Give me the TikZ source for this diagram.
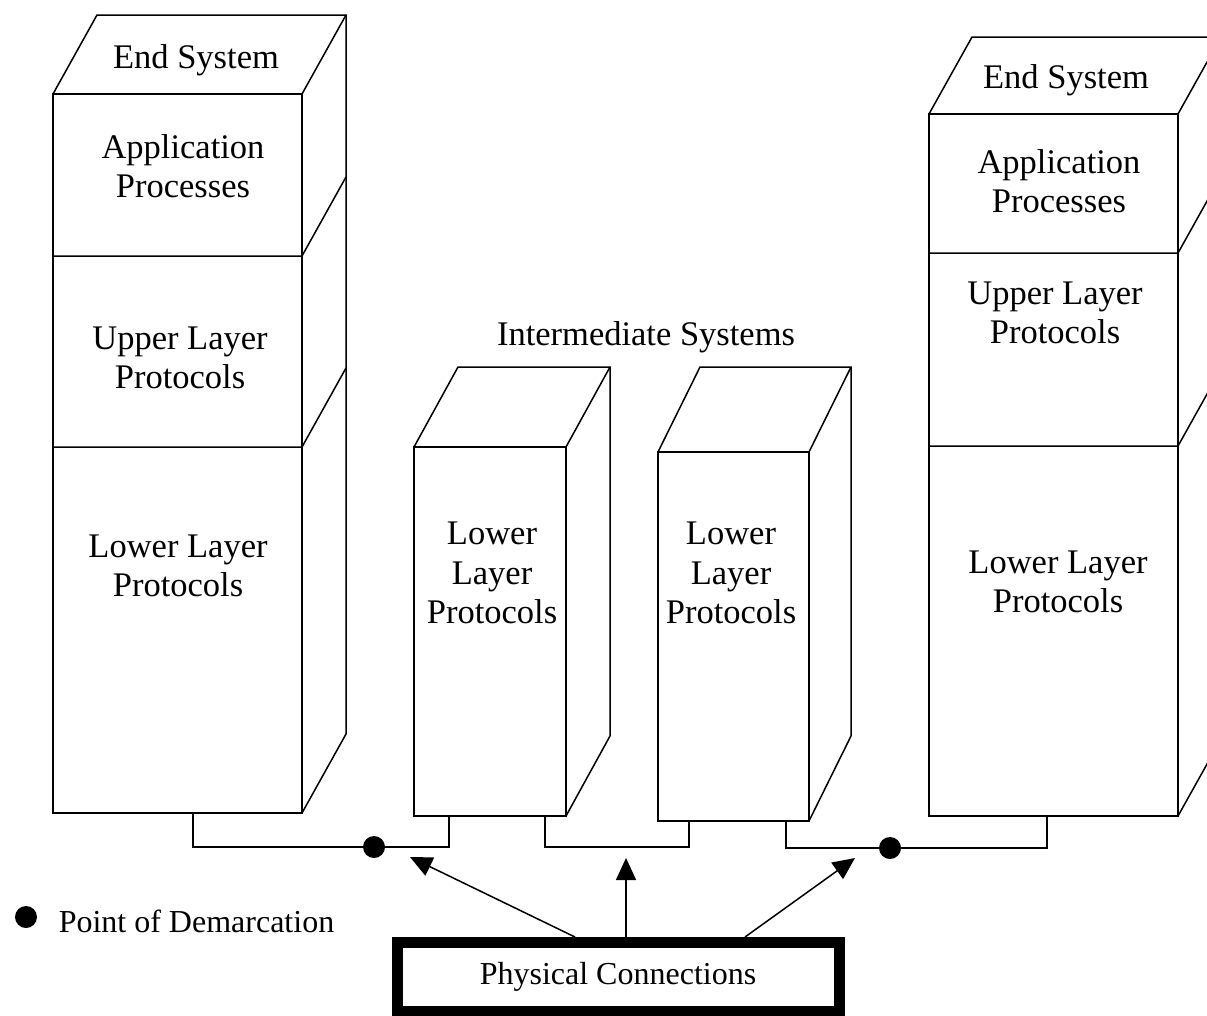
\documentclass[tikz,border=0pt]{standalone}
\usepackage{fontspec}
\setmainfont{Liberation Serif}
\usetikzlibrary{arrows.meta}
\newcommand\bigfont{\fontsize{34.5}{39.5}\selectfont}
\newcommand\smallfont{\fontsize{32}{36}\selectfont}
% cube: #1 x-left, #2 x-right, #3 y-top, #4 y-bottom, #5 dx, #6 dy
\newcommand\drawcube[6]{%
  \draw (#1,#3) rectangle (#2,#4);
  \draw (#1,#3) -- ({#1+#5},{#3+#6}) -- ({#2+#5},{#3+#6}) -- ({#2+#5},{#4+#6}) -- (#2,#4);
  \draw (#2,#3) -- ({#2+#5},{#3+#6});
}
\newcommand\drawlayer[4]{% #1 x-left, #2 x-right, #3 y, #4 dx, #5 dy
  \draw (#1,#3) -- (#2,#3) -- ++(#4);
}
\begin{document}
\begin{tikzpicture}[x=1pt,y=-1pt,line width=1.5pt,line join=miter,
  lbl/.style={font=\bigfont,align=center,inner sep=0pt},
  sml/.style={font=\smallfont,inner sep=0pt},
  dot/.style={circle,fill=black,draw=none,minimum size=22pt,inner sep=0pt},
  arr/.style={-{Triangle[width=20pt,length=22pt]},line width=1.5pt}]
\useasboundingbox (0,0) rectangle (1207,1015);
\clip (0,0) rectangle (1207,1015);

% Left end system
\drawcube{53}{302}{94}{813}{44}{-79}
\drawlayer{53}{302}{256}{44,-79}
\drawlayer{53}{302}{447}{44,-79}
\node[lbl] (es1) at (196,60) {End System};
\node[lbl] (ap1) at (183,166) {Application\\Processes};
\node[lbl] (up1) at (180,358) {Upper Layer\\Protocols};
\node[lbl] (lo1) at (178,566) {Lower Layer\\Protocols};

% Intermediate system 1
\drawcube{414}{566}{447}{816}{44}{-80}
\node[lbl] (lo2) at (492,573) {Lower\\Layer\\Protocols};

% Intermediate system 2
\drawcube{658}{809}{452}{821}{42}{-85}
\node[lbl] (lo3) at (731,573) {Lower\\Layer\\Protocols};

\node[lbl] (is) at (646,337) {Intermediate Systems};

% Right end system
\drawcube{929}{1178}{114}{816}{43}{-77}
\drawlayer{929}{1178}{253}{43,-77}
\drawlayer{929}{1178}{446}{43,-77}
\node[lbl] (es2) at (1066,80) {End System};
\node[lbl] (ap2) at (1059,181) {Application\\Processes};
\node[lbl] (up2) at (1055,313) {Upper Layer\\Protocols};
\node[lbl] (lo4) at (1058,582) {Lower Layer\\Protocols};

% connections
\coordinate (a1) at (193,813);
\coordinate (a2) at (449,816);
\coordinate (b1) at (545,816);
\coordinate (b2) at (689,821);
\coordinate (c1) at (786,821);
\coordinate (c2) at (1047,816);
\draw (a1) -- (193,847) -- (449,847) -- (a2);
\draw (b1) -- (545,847) -- (689,847) -- (b2);
\draw (c1) -- (786,848) -- (1047,848) -- (c2);
\node[dot] (d1) at (374,847) {};
\node[dot] (d2) at (890,848) {};

% legend
\node[dot] (ld) at (26,917) {};
\node[sml,anchor=west] (lt) at (58,921) {Point of Demarcation};

% physical connections box
\node[sml,draw,line width=11pt,minimum width=442pt,minimum height=69pt] (pc) at (618,977) {Physical Connections};
\coordinate (t1) at (410,857);
\coordinate (t2) at (626,858);
\coordinate (t3) at (855,858);
\draw[arr] (575,937) -- (t1);
\draw[arr] (626,937) -- (t2);
\draw[arr] (745,937) -- (t3);
\end{tikzpicture}
\end{document}
